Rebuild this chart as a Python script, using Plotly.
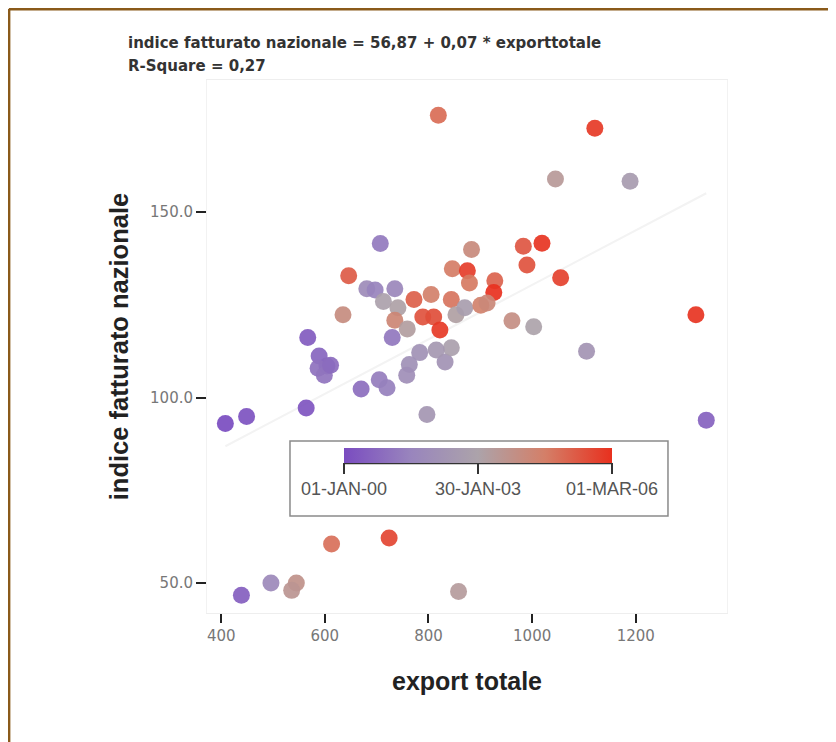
import plotly.graph_objects as go

# ---- data ----
export_totale = [819, 1121, 1045, 1189, 707, 883, 983, 1019, 990, 1055,
                 646, 846, 875, 879, 928, 926, 681, 697, 735, 713,
                 772, 805, 844, 635, 741, 735, 759, 789, 810, 822,
                 853, 870, 901, 913, 961, 1003, 1316, 1105, 567, 730,
                 589, 604, 587, 599, 611, 783, 763, 758, 832, 844,
                 815, 670, 705, 720, 564, 449, 408, 797, 1336, 613,
                 724, 496, 545, 536, 439, 858]
indice_fatturato = [176.1, 172.6, 158.9, 158.3, 141.5, 139.9, 140.8, 141.6, 135.7, 132.3,
                    132.8, 134.7, 134.2, 130.9, 131.5, 128.3, 129.3, 129.0, 129.3, 125.9,
                    126.4, 127.8, 126.4, 122.3, 124.2, 120.8, 118.5, 121.7, 121.7, 118.2,
                    122.3, 124.2, 124.9, 125.5, 120.7, 119.1, 122.3, 112.5, 116.2, 116.2,
                    111.2, 108.5, 107.9, 106.0, 108.7, 112.1, 108.9, 106.0, 109.6, 113.4,
                    112.8, 102.3, 104.8, 102.6, 97.2, 94.9, 93.0, 95.4, 93.9, 60.5,
                    62.1, 50.0, 50.0, 48.0, 46.7, 47.7]
# month index since 01-JAN-00 (colour variable)
mese = [60, 72, 42, 32, 15, 50, 65, 73, 66, 70,
        64, 56, 71, 57, 62, 74, 22, 18, 20, 36,
        63, 55, 58, 49, 38, 52, 40, 66, 67, 72,
        39, 33, 54, 51, 48, 37, 73, 28, 5, 14,
        8, 9, 12, 13, 10, 26, 25, 24, 27, 35,
        30, 11, 16, 17, 3, 2, 0, 29, 7, 59,
        69, 21, 46, 44, 6, 41]
date_tickvals = [0, 37, 74]
date_ticktext = ["01-JAN-00", "30-JAN-03", "01-MAR-06"]
# fit line as drawn in the picture
intercetta = 56.87
pendenza = 0.0735
y_ticks = [50, 100, 150]
x_ticks = [400, 600, 800, 1000, 1200]

colorscale = [[0.0, "#7a4cc0"], [0.25, "#9985bd"], [0.5, "#aca3aa"],
              [0.75, "#d47f68"], [1.0, "#e8301e"]]

font_main = "Liberation Sans, Arial, sans-serif"
font_ticks = "DejaVu Sans, sans-serif"

fig = go.Figure()

xr = [min(export_totale), max(export_totale)]
fig.add_trace(go.Scatter(
    x=xr, y=[intercetta + pendenza * v for v in xr],
    mode="lines", line=dict(color="#f3f3f3", width=2),
    hoverinfo="skip", showlegend=False))

fig.add_trace(go.Scatter(
    x=export_totale, y=indice_fatturato, mode="markers",
    marker=dict(size=17, color=mese, colorscale=colorscale, cmin=0, cmax=74,
                opacity=0.92, line=dict(width=0),
                colorbar=dict(orientation="h", x=0.521, xanchor="center",
                              y=0.3096, yanchor="top", len=0.515, lenmode="fraction",
                              thickness=15, outlinewidth=0, ypad=0, xpad=0,
                              tickmode="array", tickvals=date_tickvals,
                              ticktext=date_ticktext, ticks="outside",
                              ticklen=11, tickwidth=2, tickcolor="#333333",
                              tickfont=dict(family=font_main, size=18, color="#555555"))),
    showlegend=False))

fig.update_layout(
    width=836, height=742,
    margin=dict(l=199, r=117, t=72, b=137),
    paper_bgcolor="white", plot_bgcolor="white",
    font=dict(family=font_main, color="#333333"),
    xaxis=dict(range=[372.6, 1376], tickmode="array", tickvals=x_ticks,
               ticks="outside", ticklen=9, tickwidth=2, tickcolor="#222222",
               showgrid=False, zeroline=False, showline=True, linecolor="#eeeeee",
               linewidth=1, mirror=True,
               tickfont=dict(family=font_ticks, size=15, color="#777777"),
               title=dict(text="<b>export totale</b>", standoff=28,
                          font=dict(size=25, color="#222222"))),
    yaxis=dict(range=[41.9, 185.6], tickmode="array", tickvals=y_ticks,
               tickformat=".1f",
               ticks="outside", ticklen=10, tickwidth=2, tickcolor="#222222",
               showgrid=False, zeroline=False, showline=True, linecolor="#f2f2f2",
               linewidth=1, mirror=True,
               tickfont=dict(family=font_ticks, size=15, color="#777777"),
               title=dict(text="<b>indice fatturato nazionale</b>", standoff=14,
                          font=dict(size=25.5, color="#222222"))),
    shapes=[
        dict(type="rect", xref="paper", yref="paper", x0=0.1596, x1=0.8865,
             y0=0.182, y1=0.3227, line=dict(color="#8a8a8a", width=1.5),
             fillcolor="white", layer="below"),
        dict(type="line", xref="paper", yref="paper", x0=0.264, x1=0.779,
             y0=0.281, y1=0.281, line=dict(color="#333333", width=2)),
        dict(type="line", xref="paper", yref="paper", x0=-0.381, x1=1.3,
             y0=1.133, y1=1.133, line=dict(color="#8a5a1a", width=3)),
        dict(type="line", xref="paper", yref="paper", x0=-0.381, x1=-0.381,
             y0=1.133, y1=-0.3, line=dict(color="#8a5a1a", width=3)),
    ],
    annotations=[
        dict(text="<b>indice fatturato nazionale = 56,87 + 0,07 * exporttotale</b>",
             xref="paper", yref="paper", x=-0.155, y=1.070, xanchor="left",
             yanchor="middle", showarrow=False,
             font=dict(family=font_ticks, size=15, color="#333333")),
        dict(text="<b>R-Square = 0,27</b>",
             xref="paper", yref="paper", x=-0.155, y=1.0257, xanchor="left",
             yanchor="middle", showarrow=False,
             font=dict(family=font_ticks, size=15, color="#333333")),
    ],
)

fig.write_html("out.html")
